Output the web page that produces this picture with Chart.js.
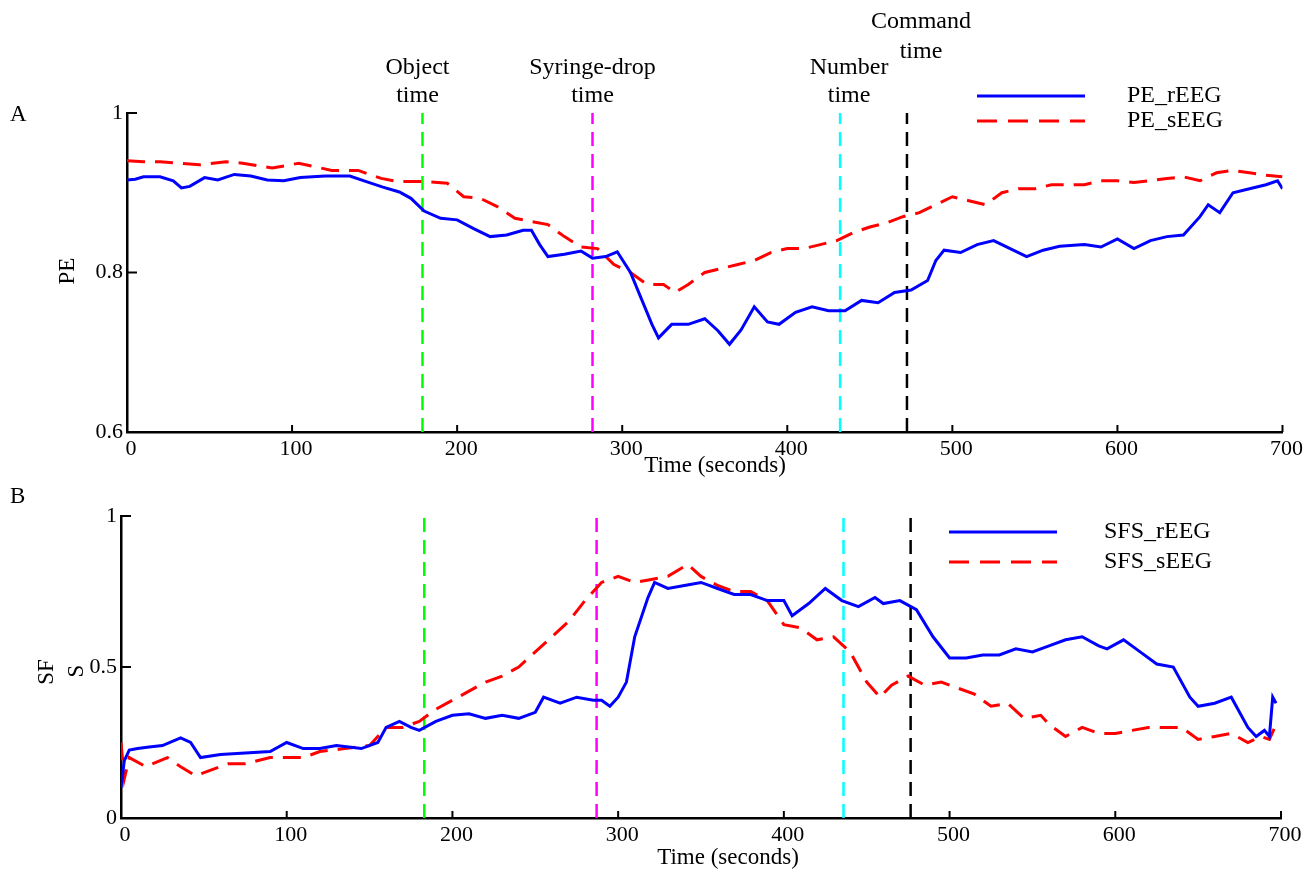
<!DOCTYPE html>
<html lang="en">
<head>
<meta charset="UTF-8">
<title>PE and SFS over time</title>
<script src="https://cdn.jsdelivr.net/npm/chart.js"></script>
<style>
  body { margin: 0; background: #ffffff; }
  .panel { position: absolute; left: 0; width: 1303px; }
  #wrapA { top: 0; height: 480px; }
  #wrapB { top: 480px; height: 391px; }
</style>
</head>
<body>
<div class="panel" id="wrapA"><canvas id="chartA" width="1303" height="480"></canvas></div>
<div class="panel" id="wrapB"><canvas id="chartB" width="1303" height="391"></canvas></div>
<script>
// ---- data ----
const peRTime = [0, 5, 10, 20, 28, 33, 38, 47, 55, 65, 75, 85, 95, 105, 120, 135, 145, 155, 165, 172, 180, 190, 200, 210, 220, 230, 240, 245, 250, 255, 265, 275, 282, 290, 297, 305, 312, 318, 322, 330, 340, 350, 358, 365, 372, 380, 388, 395, 405, 415, 425, 435, 445, 455, 465, 475, 485, 490, 495, 505, 515, 525, 535, 545, 555, 565, 580, 590, 600, 610, 620, 630, 640, 650, 655, 662, 670, 680, 690, 697, 700];
const peRValues = [0.916, 0.917, 0.920, 0.920, 0.915, 0.906, 0.908, 0.919, 0.916, 0.923, 0.921, 0.916, 0.915, 0.919, 0.921, 0.921, 0.914, 0.907, 0.901, 0.893, 0.877, 0.868, 0.866, 0.855, 0.845, 0.847, 0.853, 0.853, 0.835, 0.820, 0.823, 0.827, 0.818, 0.820, 0.826, 0.800, 0.765, 0.735, 0.718, 0.735, 0.735, 0.742, 0.727, 0.710, 0.728, 0.757, 0.738, 0.735, 0.750, 0.757, 0.752, 0.752, 0.765, 0.762, 0.775, 0.778, 0.790, 0.815, 0.828, 0.825, 0.835, 0.840, 0.830, 0.820, 0.828, 0.833, 0.835, 0.832, 0.842, 0.830, 0.840, 0.845, 0.847, 0.870, 0.885, 0.875, 0.900, 0.905, 0.910, 0.915, 0.905];

const peSTime = [0, 10, 20, 44, 60, 70, 88, 104, 124, 140, 154, 164, 180, 194, 204, 214, 224, 235, 245, 255, 265, 275, 285, 295, 305, 315, 325, 332, 340, 350, 360, 370, 380, 390, 400, 410, 420, 430, 440, 450, 460, 470, 480, 490, 500, 510, 520, 530, 540, 550, 560, 570, 580, 590, 600, 610, 620, 630, 640, 650, 660, 670, 680, 690, 700];
const peSValues = [0.940, 0.939, 0.939, 0.935, 0.939, 0.937, 0.931, 0.937, 0.928, 0.928, 0.918, 0.914, 0.914, 0.912, 0.895, 0.893, 0.883, 0.868, 0.864, 0.860, 0.845, 0.832, 0.830, 0.810, 0.800, 0.785, 0.785, 0.775, 0.785, 0.800, 0.805, 0.810, 0.815, 0.825, 0.830, 0.830, 0.835, 0.840, 0.850, 0.857, 0.862, 0.870, 0.875, 0.885, 0.895, 0.890, 0.885, 0.900, 0.905, 0.905, 0.910, 0.910, 0.910, 0.915, 0.915, 0.913, 0.915, 0.918, 0.920, 0.915, 0.925, 0.928, 0.925, 0.922, 0.920];

const sfsRTime = [0, 2, 5, 10, 17, 25, 36, 42, 48, 60, 75, 90, 100, 110, 120, 130, 145, 155, 160, 168, 175, 180, 190, 200, 210, 220, 230, 240, 250, 255, 265, 275, 285, 290, 295, 300, 305, 310, 318, 322, 330, 340, 350, 360, 370, 380, 390, 400, 405, 415, 425, 435, 445, 455, 460, 470, 480, 490, 500, 510, 520, 530, 540, 550, 560, 570, 580, 590, 595, 605, 615, 625, 635, 645, 650, 660, 670, 680, 685, 690, 693, 695, 697];
const sfsRValues = [0.10, 0.19, 0.225, 0.23, 0.235, 0.24, 0.265, 0.25, 0.20, 0.21, 0.215, 0.22, 0.25, 0.23, 0.23, 0.24, 0.23, 0.25, 0.30, 0.32, 0.30, 0.29, 0.32, 0.34, 0.345, 0.33, 0.34, 0.33, 0.35, 0.40, 0.38, 0.40, 0.39, 0.39, 0.37, 0.40, 0.45, 0.60, 0.73, 0.78, 0.76, 0.77, 0.78, 0.76, 0.74, 0.74, 0.72, 0.72, 0.67, 0.71, 0.76, 0.72, 0.70, 0.73, 0.71, 0.72, 0.69, 0.60, 0.53, 0.53, 0.54, 0.54, 0.56, 0.55, 0.57, 0.59, 0.60, 0.57, 0.56, 0.59, 0.55, 0.51, 0.50, 0.40, 0.37, 0.38, 0.40, 0.30, 0.27, 0.29, 0.27, 0.40, 0.38];

const sfsSTime = [0, 2, 5, 15, 28, 36, 45, 55, 65, 75, 90, 100, 110, 120, 135, 150, 160, 170, 180, 190, 200, 210, 220, 230, 240, 250, 260, 270, 280, 290, 300, 310, 320, 330, 342, 350, 360, 370, 380, 390, 400, 410, 420, 430, 440, 450, 458, 465, 475, 485, 495, 505, 515, 525, 535, 545, 555, 560, 570, 580, 590, 600, 610, 620, 630, 640, 650, 660, 670, 680, 688, 693, 697];
const sfsSValues = [0.25, 0.13, 0.20, 0.17, 0.20, 0.17, 0.14, 0.16, 0.18, 0.18, 0.20, 0.20, 0.20, 0.22, 0.23, 0.24, 0.30, 0.30, 0.32, 0.36, 0.39, 0.42, 0.45, 0.47, 0.50, 0.55, 0.60, 0.65, 0.72, 0.78, 0.80, 0.78, 0.79, 0.80, 0.84, 0.80, 0.77, 0.75, 0.75, 0.72, 0.64, 0.63, 0.59, 0.60, 0.55, 0.45, 0.40, 0.44, 0.47, 0.44, 0.45, 0.43, 0.41, 0.37, 0.38, 0.33, 0.34, 0.31, 0.27, 0.30, 0.28, 0.28, 0.29, 0.30, 0.30, 0.30, 0.26, 0.27, 0.28, 0.25, 0.27, 0.26, 0.31];

const eventLabels = [['Object', 'time'], ['Syringe-drop', 'time'], ['Number', 'time'], ['Command', 'time']];
const eventColors = ['#00ff00', '#ff00ff', '#00ffff', '#000000'];
const eventTimesA = [179, 282, 432, 472.5];
const eventTimesB = [183, 287, 436, 476.5];

const xTicks = [0, 100, 200, 300, 400, 500, 600, 700];

const FONT = "'Liberation Serif', 'DejaVu Serif', serif";

function toPoints(times, values) {
  return times.map((t, i) => ({ x: t, y: values[i] }));
}

function eventDatasets(times, yMin, yMax) {
  return times.map((t, i) => ({
    label: eventLabels[i].join(' '),
    data: [{ x: t, y: yMin }, { x: t, y: yMax }],
    borderColor: eventColors[i],
    borderWidth: 2.5,
    borderDash: [14, 8],
    pointRadius: 0,
    order: 5
  }));
}

// draws the bits Chart.js has no direct option for: inward ticks, labels, legend
const decoPlugin = {
  id: 'deco',
  afterDraw(chart, args, opts) {
    const { ctx, chartArea: a, scales } = chart;
    ctx.save();
    ctx.strokeStyle = '#000';
    ctx.lineWidth = 2;
    scales.x.ticks.forEach(t => {
      const px = scales.x.getPixelForValue(t.value);
      if (t.value === 0) return;
      ctx.beginPath(); ctx.moveTo(px, a.bottom); ctx.lineTo(px, a.bottom - 7); ctx.stroke();
    });
    scales.y.ticks.forEach(t => {
      const py = scales.y.getPixelForValue(t.value);
      ctx.beginPath(); ctx.moveTo(a.left, py); ctx.lineTo(a.left + 10, py); ctx.stroke();
    });

    ctx.fillStyle = '#000';
    ctx.textBaseline = 'middle';
    ctx.font = '23px ' + FONT;
    ctx.textAlign = 'left';
    ctx.fillText(opts.letter, opts.letterPos[0], opts.letterPos[1]);

    ctx.textAlign = 'center';
    ctx.fillText('Time (seconds)', opts.xTitle[0], opts.xTitle[1]);

    opts.yTitle.forEach(p => {
      ctx.save();
      ctx.translate(p.x, p.y);
      ctx.rotate(-Math.PI / 2);
      ctx.fillText(p.text, 0, 0);
      ctx.restore();
    });

    // event labels
    if (opts.eventText) {
      ctx.font = '24px ' + FONT;
      opts.eventText.forEach((e, i) => {
        const px = scales.x.getPixelForValue(opts.eventTimes[i]) + e.dx;
        ctx.fillText(eventLabels[i][0], px, e.y1);
        ctx.fillText(eventLabels[i][1], px, e.y2);
      });
    }

    // legend
    const lg = opts.legend;
    ctx.font = '24px ' + FONT;
    ctx.textAlign = 'left';
    lg.items.forEach((it, i) => {
      const y = lg.y[i];
      ctx.strokeStyle = it.color;
      ctx.lineWidth = 3;
      ctx.setLineDash(it.dash);
      ctx.beginPath(); ctx.moveTo(lg.x1, y); ctx.lineTo(lg.x2, y); ctx.stroke();
      ctx.setLineDash([]);
      ctx.fillStyle = '#000';
      ctx.fillText(it.text, lg.tx, y);
    });
    ctx.restore();
  }
};

function makeScales(yMin, yMax, yStep, xH, yW) {
  return {
    x: {
      type: 'linear', min: 0, max: 700,
      afterBuildTicks: s => { s.ticks = xTicks.map(v => ({ value: v })); },
      afterFit: s => { s.height = xH; },
      grid: { display: false, drawTicks: false },
      border: { display: true, color: '#000', width: 2.5 },
      ticks: { color: '#000', font: { family: FONT, size: 22 }, padding: 4, labelOffset: 4, maxRotation: 0 }
    },
    y: {
      min: yMin, max: yMax,
      afterFit: s => { s.width = yW; },
      grid: { display: false, drawTicks: false },
      border: { display: true, color: '#000', width: 2.5 },
      ticks: {
        stepSize: yStep, color: '#000', font: { family: FONT, size: 22 }, padding: 4,
        callback: v => String(+v.toFixed(2))
      }
    }
  };
}

function lineSet(label, pts, color, dash) {
  return {
    label: label, data: pts, borderColor: color, borderWidth: 3,
    borderDash: dash, pointRadius: 0, tension: 0, order: 1
  };
}

new Chart(document.getElementById('chartA'), {
  type: 'line',
  data: {
    datasets: [
      lineSet('PE_rEEG', toPoints(peRTime, peRValues), '#0000ff', []),
      lineSet('PE_sEEG', toPoints(peSTime, peSValues), '#ff0000', [18, 10]),
      ...eventDatasets(eventTimesA, 0.6, 1)
    ]
  },
  options: {
    responsive: false, animation: false,
    layout: { padding: { top: 113, right: 16, bottom: 0, left: 0 } },
    scales: makeScales(0.6, 1, 0.2, 48, 127),
    plugins: {
      legend: { display: false }, tooltip: { enabled: false },
      deco: {
        letter: 'A', letterPos: [10, 115],
        xTitle: [715, 466],
        yTitle: [{ text: 'PE', x: 68, y: 271 }],
        eventTimes: eventTimesA,
        eventText: [
          { dx: -5, y1: 68, y2: 96 },
          { dx: 0, y1: 68, y2: 96 },
          { dx: 9, y1: 68, y2: 96 },
          { dx: 14, y1: 22, y2: 52 }
        ],
        legend: {
          x1: 977, x2: 1085, tx: 1127, y: [96, 121],
          items: [
            { text: 'PE_rEEG', color: '#0000ff', dash: [] },
            { text: 'PE_sEEG', color: '#ff0000', dash: [20, 11] }
          ]
        }
      }
    }
  },
  plugins: [decoPlugin]
});

new Chart(document.getElementById('chartB'), {
  type: 'line',
  data: {
    datasets: [
      lineSet('SFS_rEEG', toPoints(sfsRTime, sfsRValues), '#0000ff', []),
      lineSet('SFS_sEEG', toPoints(sfsSTime, sfsSValues), '#ff0000', [18, 10]),
      ...eventDatasets(eventTimesB, 0, 1)
    ]
  },
  options: {
    responsive: false, animation: false,
    layout: { padding: { top: 36, right: 22, bottom: 0, left: 0 } },
    scales: makeScales(0, 1, 0.5, 53, 121),
    plugins: {
      legend: { display: false }, tooltip: { enabled: false },
      deco: {
        letter: 'B', letterPos: [10, 17],
        xTitle: [728, 378],
        yTitle: [{ text: 'SF', x: 47, y: 192 }, { text: 'S', x: 77, y: 191 }],
        legend: {
          x1: 949, x2: 1057, tx: 1104, y: [52, 82],
          items: [
            { text: 'SFS_rEEG', color: '#0000ff', dash: [] },
            { text: 'SFS_sEEG', color: '#ff0000', dash: [20, 11] }
          ]
        }
      }
    }
  },
  plugins: [decoPlugin]
});
</script>
</body>
</html>
